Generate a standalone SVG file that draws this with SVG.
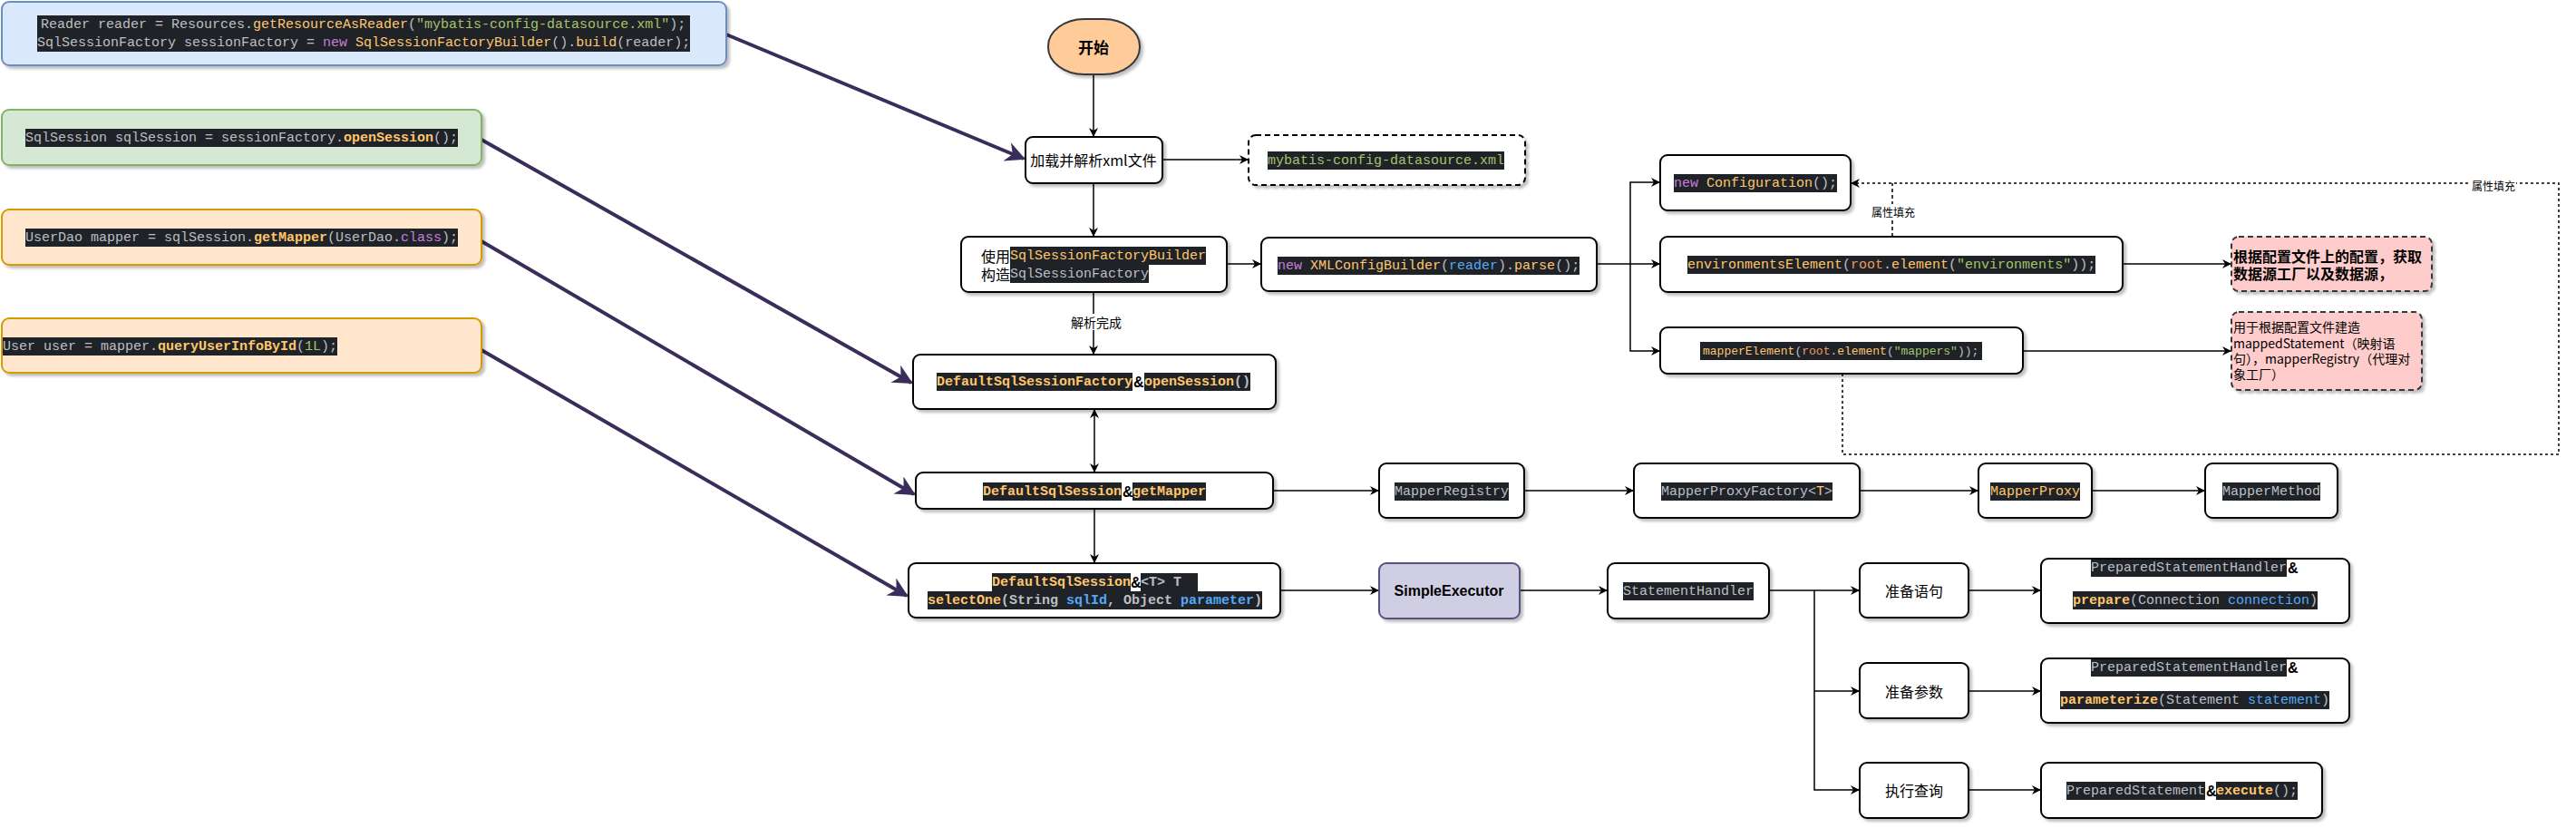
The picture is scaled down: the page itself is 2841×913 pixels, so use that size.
<svg xmlns="http://www.w3.org/2000/svg" width="2841" height="913" viewBox="0 0 2841 913">
<style>
.bg{fill:#ffffff}
.n{fill:#ffffff;stroke:#000000;stroke-width:2}
.hl{fill:#1f2327}
.c{font-family:"Liberation Mono",monospace;font-size:15px;fill:#bcbec4;dominant-baseline:central}
.cb{font-weight:bold}
.g{fill:#bcbec4}
.y{fill:#ffc66d}
.s{fill:#a5c26b}
.p{fill:#c77ddb}
.b{fill:#56a8f5}
.o{fill:#e89a66}
.t{font-family:"Noto Sans CJK SC","Liberation Sans",sans-serif;font-size:16px;fill:#000000;dominant-baseline:central}
.cj{font-family:"Noto Sans CJK SC","Liberation Sans",sans-serif;font-size:16px;font-weight:normal;fill:#000000}
.amp{font-family:"Liberation Sans",sans-serif;font-size:16px;font-weight:bold;fill:#000000}
.lbl{font-family:"Noto Sans CJK SC","Liberation Sans",sans-serif;font-size:12px;fill:#000000;dominant-baseline:central;text-anchor:middle}
.ln{fill:none;stroke:#000000;stroke-width:1.5}
.pa{fill:none;stroke:#3b2d5b;stroke-width:4}
</style>
<defs>
<filter id="sh" x="-10%" y="-10%" width="130%" height="140%">
<feDropShadow dx="3" dy="3" stdDeviation="1.5" flood-color="#000000" flood-opacity="0.25"/>
</filter>
<marker id="a" viewBox="0 0 10 10" refX="10" refY="5" markerWidth="10" markerHeight="10" markerUnits="userSpaceOnUse" orient="auto-start-reverse">
<path d="M0,0 L10,5 L0,10 L3,5 Z" fill="#000000"/>
</marker>
<marker id="pa" viewBox="0 0 10 10" refX="9" refY="5" markerWidth="28" markerHeight="22" markerUnits="userSpaceOnUse" orient="auto">
<path d="M0,0 L10,5 L0,10 L3,5 Z" fill="#3b2d5b"/>
</marker>
</defs>
<rect class="bg" x="0" y="0" width="2841" height="913"/>

<g id="connectors">
<path class="pa" d="M801,38 L1129,175" marker-end="url(#pa)"/>
<path class="pa" d="M531,154 L1005,422" marker-end="url(#pa)"/>
<path class="pa" d="M531,266 L1008,545" marker-end="url(#pa)"/>
<path class="pa" d="M531,386 L1000,657" marker-end="url(#pa)"/>
<path class="ln" d="M1206,82 V151" marker-end="url(#a)"/>
<path class="ln" d="M1282,176 H1377" marker-end="url(#a)"/>
<path class="ln" d="M1206,202 V261" marker-end="url(#a)"/>
<path class="ln" d="M1353,291 H1391" marker-end="url(#a)"/>
<path class="ln" d="M1206,322 V391" marker-end="url(#a)"/>
<rect x="1180" y="346" width="58" height="18" fill="#ffffff"/>
<text class="lbl" x="1209" y="355" style="font-size:14px">解析完成</text>
<path class="ln" d="M1761,291 H1798 V201 H1831" marker-end="url(#a)"/>
<path class="ln" d="M1798,291 H1831" marker-end="url(#a)"/>
<path class="ln" d="M1798,291 V387 H1831" marker-end="url(#a)"/>
<path class="ln" d="M2341,291 H2461" marker-end="url(#a)"/>
<path class="ln" d="M2231,387 H2461" marker-end="url(#a)"/>
<path class="ln" d="M2032,412 V501 H2822 V202 H2041" stroke-dasharray="3 3" marker-end="url(#a)"/>
<path class="ln" d="M2087,261 V202" stroke-dasharray="4 3"/>
<rect x="2063" y="225" width="50" height="16" fill="#ffffff"/>
<text class="lbl" x="2088" y="233">属性填充</text>
<rect x="2725" y="196" width="50" height="16" fill="#ffffff"/>
<text class="lbl" x="2750" y="204">属性填充</text>
<path class="ln" d="M1207,451 V521" marker-start="url(#a)" marker-end="url(#a)"/>
<path class="ln" d="M1207,561 V621" marker-end="url(#a)"/>
<path class="ln" d="M1404,541 H1521" marker-end="url(#a)"/>
<path class="ln" d="M1681,541 H1802" marker-end="url(#a)"/>
<path class="ln" d="M2051,541 H2182" marker-end="url(#a)"/>
<path class="ln" d="M2307,541 H2432" marker-end="url(#a)"/>
<path class="ln" d="M1412,651 H1521" marker-end="url(#a)"/>
<path class="ln" d="M1676,651 H1773" marker-end="url(#a)"/>
<path class="ln" d="M1951,651 H2051" marker-end="url(#a)"/>
<path class="ln" d="M2001,651 V871 H2051" marker-end="url(#a)"/>
<path class="ln" d="M2001,762 H2051" marker-end="url(#a)"/>
<path class="ln" d="M2171,651 H2251" marker-end="url(#a)"/>
<path class="ln" d="M2171,762 H2251" marker-end="url(#a)"/>
<path class="ln" d="M2171,871 H2251" marker-end="url(#a)"/>
</g>

<g id="code-reader">
<rect x="2" y="2" width="799" height="70" rx="8" fill="#dae8fc" stroke="#6c8ebf" stroke-width="2" filter="url(#sh)"/>
<rect class="hl" x="41" y="17" width="720" height="40"/>
<text class="c" xml:space="preserve"><tspan x="45" y="27"><tspan class="g">Reader reader = Resources.</tspan><tspan class="y">getResourceAsReader</tspan><tspan class="g">(</tspan><tspan class="s">"mybatis-config-datasource.xml"</tspan><tspan class="g">);</tspan></tspan><tspan x="41" y="47"><tspan class="g">SqlSessionFactory sessionFactory = </tspan><tspan class="p">new</tspan><tspan class="g"> </tspan><tspan class="y">SqlSessionFactoryBuilder</tspan><tspan class="g">().</tspan><tspan class="y">build</tspan><tspan class="g">(reader);</tspan></tspan></text>
</g>

<g id="code-opensession">
<rect x="2" y="121" width="529" height="61" rx="8" fill="#d5e8d4" stroke="#82b366" stroke-width="2" filter="url(#sh)"/>
<rect class="hl" x="28" y="142" width="477" height="20"/>
<text class="c" x="28" y="152" xml:space="preserve"><tspan class="g">SqlSession sqlSession = sessionFactory.</tspan><tspan class="y cb">openSession</tspan><tspan class="g">();</tspan></text>
</g>

<g id="code-getmapper">
<rect x="2" y="231" width="529" height="61" rx="8" fill="#ffe6cc" stroke="#d79b00" stroke-width="2" filter="url(#sh)"/>
<rect class="hl" x="28" y="252" width="477" height="20"/>
<text class="c" x="28" y="262" xml:space="preserve"><tspan class="g">UserDao mapper = sqlSession.</tspan><tspan class="y cb">getMapper</tspan><tspan class="g">(UserDao.</tspan><tspan class="p">class</tspan><tspan class="g">);</tspan></text>
</g>

<g id="code-query">
<rect x="2" y="351" width="529" height="60" rx="8" fill="#ffe6cc" stroke="#d79b00" stroke-width="2" filter="url(#sh)"/>
<rect class="hl" x="3" y="372" width="369" height="20"/>
<text class="c" x="3" y="382" xml:space="preserve"><tspan class="g">User user = mapper.</tspan><tspan class="y cb">queryUserInfoById</tspan><tspan class="g">(</tspan><tspan class="s">1L</tspan><tspan class="g">);</tspan></text>
</g>

<g id="start">
<rect x="1156" y="21" width="101" height="61" rx="40" ry="30" fill="#ffcc99" stroke="#36393d" stroke-width="2" filter="url(#sh)"/>
<text class="t" x="1206" y="51" text-anchor="middle" style="font-weight:bold;font-size:17px">开始</text>
</g>

<g id="load-xml">
<rect class="n" x="1131" y="151" width="151" height="51" rx="8" filter="url(#sh)"/>
<text class="t" x="1206" y="176" text-anchor="middle">加载并解析xml文件</text>
</g>

<g id="xml-file">
<rect x="1377" y="149" width="305" height="55" rx="8" fill="#ffffff" stroke="#000000" stroke-width="2" stroke-dasharray="6 4" filter="url(#sh)"/>
<rect class="hl" x="1398" y="167" width="261" height="20"/>
<text class="c" x="1398" y="177"><tspan class="s">mybatis-config-datasource.xml</tspan></text>
</g>

<g id="builder">
<rect class="n" x="1060" y="261" width="293" height="61" rx="8" filter="url(#sh)"/>
<rect class="hl" x="1114" y="272" width="216" height="20"/>
<rect class="hl" x="1114" y="292" width="153" height="20"/>
<text class="c"><tspan class="cj" x="1082" y="282">使用</tspan><tspan class="y" x="1114" y="282">SqlSessionFactoryBuilder</tspan><tspan class="cj" x="1082" y="302">构造</tspan><tspan class="g" x="1114" y="302">SqlSessionFactory</tspan></text>
</g>

<g id="xmlconfig">
<rect class="n" x="1391" y="262" width="370" height="59" rx="8" filter="url(#sh)"/>
<rect class="hl" x="1409" y="283" width="333" height="20"/>
<text class="c" x="1409" y="293" xml:space="preserve"><tspan class="p">new</tspan><tspan class="g"> </tspan><tspan class="y">XMLConfigBuilder</tspan><tspan class="g">(</tspan><tspan class="b">reader</tspan><tspan class="g">).</tspan><tspan class="y">parse</tspan><tspan class="g">();</tspan></text>
</g>

<g id="configuration">
<rect class="n" x="1831" y="171" width="210" height="61" rx="8" filter="url(#sh)"/>
<rect class="hl" x="1846" y="192" width="180" height="20"/>
<text class="c" x="1846" y="202" xml:space="preserve"><tspan class="p">new</tspan><tspan class="y"> Configuration</tspan><tspan class="g">();</tspan></text>
</g>

<g id="environments">
<rect class="n" x="1831" y="261" width="510" height="61" rx="8" filter="url(#sh)"/>
<rect class="hl" x="1861" y="282" width="450" height="20"/>
<text class="c" x="1861" y="292" xml:space="preserve"><tspan class="y">environmentsElement</tspan><tspan class="g">(</tspan><tspan class="o">root</tspan><tspan class="g">.</tspan><tspan class="y">element</tspan><tspan class="g">(</tspan><tspan class="s">"environments"</tspan><tspan class="g">));</tspan></text>
</g>

<g id="mappers">
<rect class="n" x="1831" y="361" width="400" height="51" rx="8" filter="url(#sh)"/>
<rect class="hl" x="1875" y="377" width="311" height="20"/>
<text class="c" x="1878" y="387" style="font-size:13px" xml:space="preserve"><tspan class="y">mapperElement</tspan><tspan class="g">(</tspan><tspan class="o">root</tspan><tspan class="g">.</tspan><tspan class="y">element</tspan><tspan class="g">(</tspan><tspan class="s">"mappers"</tspan><tspan class="g">));</tspan></text>
</g>

<g id="note-env">
<rect x="2461" y="261" width="221" height="60" rx="8" fill="#ffcccc" stroke="#36393d" stroke-width="2" stroke-dasharray="6 4" filter="url(#sh)"/>
<text class="t" style="font-weight:bold"><tspan x="2463" y="282">根据配置文件上的配置，获取</tspan><tspan x="2463" y="301">数据源工厂以及数据源，</tspan></text>
</g>

<g id="note-mapper">
<rect x="2461" y="344" width="210" height="86" rx="8" fill="#ffcccc" stroke="#36393d" stroke-width="2" stroke-dasharray="6 4" filter="url(#sh)"/>
<text class="t" style="font-size:14px"><tspan x="2463" y="360">用于根据配置文件建造</tspan><tspan x="2463" y="378">mappedStatement（映射语</tspan><tspan x="2463" y="395">句），mapperRegistry（代理对</tspan><tspan x="2463" y="412">象工厂）</tspan></text>
</g>

<g id="open-session">
<rect class="n" x="1007" y="391" width="400" height="60" rx="8" filter="url(#sh)"/>
<rect class="hl" x="1033" y="411" width="216" height="20"/>
<rect class="hl" x="1262" y="411" width="117" height="20"/>
<text class="c cb" y="421"><tspan class="y" x="1033">DefaultSqlSessionFactory</tspan><tspan class="amp" x="1250">&amp;</tspan><tspan class="y" x="1262">openSession</tspan><tspan class="g">()</tspan></text>
</g>

<g id="get-mapper">
<rect class="n" x="1010" y="521" width="394" height="40" rx="8" filter="url(#sh)"/>
<rect class="hl" x="1084" y="532" width="153" height="20"/>
<rect class="hl" x="1249" y="532" width="81" height="20"/>
<text class="c cb" y="542"><tspan class="y" x="1084">DefaultSqlSession</tspan><tspan class="amp" x="1238">&amp;</tspan><tspan class="y" x="1249">getMapper</tspan></text>
</g>

<g id="select-one">
<rect class="n" x="1002" y="621" width="410" height="60" rx="8" filter="url(#sh)"/>
<rect class="hl" x="1094" y="632" width="153" height="20"/>
<rect class="hl" x="1258" y="632" width="63" height="20"/>
<rect class="hl" x="1023" y="652" width="369" height="20"/>
<text class="c cb" xml:space="preserve"><tspan class="y" x="1094" y="642">DefaultSqlSession</tspan><tspan class="amp" x="1247" y="642">&amp;</tspan><tspan class="g" x="1258" y="642">&lt;T&gt; T</tspan><tspan x="1023" y="662"><tspan class="y">selectOne</tspan><tspan class="g">(String </tspan><tspan class="b">sqlId</tspan><tspan class="g">, Object </tspan><tspan class="b">parameter</tspan><tspan class="g">)</tspan></tspan></text>
</g>

<g id="mapper-registry">
<rect class="n" x="1521" y="511" width="160" height="60" rx="8" filter="url(#sh)"/>
<rect class="hl" x="1538" y="532" width="126" height="20"/>
<text class="c" x="1538" y="542"><tspan class="g">MapperRegistry</tspan></text>
</g>

<g id="mapper-proxy-factory">
<rect class="n" x="1802" y="511" width="249" height="60" rx="8" filter="url(#sh)"/>
<rect class="hl" x="1832" y="532" width="189" height="20"/>
<text class="c" x="1832" y="542"><tspan class="g">MapperProxyFactory&lt;</tspan><tspan class="y">T</tspan><tspan class="g">&gt;</tspan></text>
</g>

<g id="mapper-proxy">
<rect class="n" x="2182" y="511" width="125" height="60" rx="8" filter="url(#sh)"/>
<rect class="hl" x="2195" y="532" width="99" height="20"/>
<text class="c" x="2195" y="542"><tspan class="y">MapperProxy</tspan></text>
</g>

<g id="mapper-method">
<rect class="n" x="2432" y="511" width="146" height="60" rx="8" filter="url(#sh)"/>
<rect class="hl" x="2451" y="532" width="108" height="20"/>
<text class="c" x="2451" y="542"><tspan class="g">MapperMethod</tspan></text>
</g>

<g id="simple-executor">
<rect x="1521" y="621" width="155" height="61" rx="8" fill="#d0cee2" stroke="#56517e" stroke-width="2" filter="url(#sh)"/>
<text x="1598" y="651" style="font-family:'Liberation Sans',sans-serif;font-size:16px;font-weight:bold;fill:#000000;dominant-baseline:central;text-anchor:middle">SimpleExecutor</text>
</g>

<g id="statement-handler">
<rect class="n" x="1773" y="621" width="178" height="61" rx="8" filter="url(#sh)"/>
<rect class="hl" x="1790" y="642" width="144" height="20"/>
<text class="c" x="1790" y="652"><tspan class="g">StatementHandler</tspan></text>
</g>

<g id="prepare-stmt">
<rect class="n" x="2051" y="621" width="120" height="60" rx="8" filter="url(#sh)"/>
<text class="t" x="2111" y="651" text-anchor="middle">准备语句</text>
</g>

<g id="prepare-params">
<rect class="n" x="2051" y="731" width="120" height="61" rx="8" filter="url(#sh)"/>
<text class="t" x="2111" y="762" text-anchor="middle">准备参数</text>
</g>

<g id="exec-query">
<rect class="n" x="2051" y="841" width="120" height="61" rx="8" filter="url(#sh)"/>
<text class="t" x="2111" y="871" text-anchor="middle">执行查询</text>
</g>

<g id="psh-prepare">
<rect class="n" x="2251" y="616" width="340" height="71" rx="8" filter="url(#sh)"/>
<rect class="hl" x="2306" y="617" width="216" height="19"/>
<rect class="hl" x="2286" y="652" width="270" height="20"/>
<text class="c" xml:space="preserve"><tspan class="g" x="2306" y="626">PreparedStatementHandler</tspan><tspan class="amp" x="2523" y="626">&amp;</tspan><tspan x="2286" y="662"><tspan class="y cb">prepare</tspan><tspan class="g">(Connection </tspan><tspan class="b">connection</tspan><tspan class="g">)</tspan></tspan></text>
</g>

<g id="psh-parameterize">
<rect class="n" x="2251" y="726" width="340" height="71" rx="8" filter="url(#sh)"/>
<rect class="hl" x="2306" y="727" width="216" height="19"/>
<rect class="hl" x="2272" y="762" width="297" height="20"/>
<text class="c" xml:space="preserve"><tspan class="g" x="2306" y="736">PreparedStatementHandler</tspan><tspan class="amp" x="2523" y="736">&amp;</tspan><tspan x="2272" y="772"><tspan class="y cb">parameterize</tspan><tspan class="g">(Statement </tspan><tspan class="b">statement</tspan><tspan class="g">)</tspan></tspan></text>
</g>

<g id="ps-execute">
<rect class="n" x="2251" y="841" width="310" height="61" rx="8" filter="url(#sh)"/>
<rect class="hl" x="2279" y="862" width="153" height="20"/>
<rect class="hl" x="2444" y="862" width="90" height="20"/>
<text class="c" y="872"><tspan class="g" x="2279">PreparedStatement</tspan><tspan class="amp" x="2433">&amp;</tspan><tspan class="y cb" x="2444">execute</tspan><tspan class="g">();</tspan></text>
</g>
</svg>
